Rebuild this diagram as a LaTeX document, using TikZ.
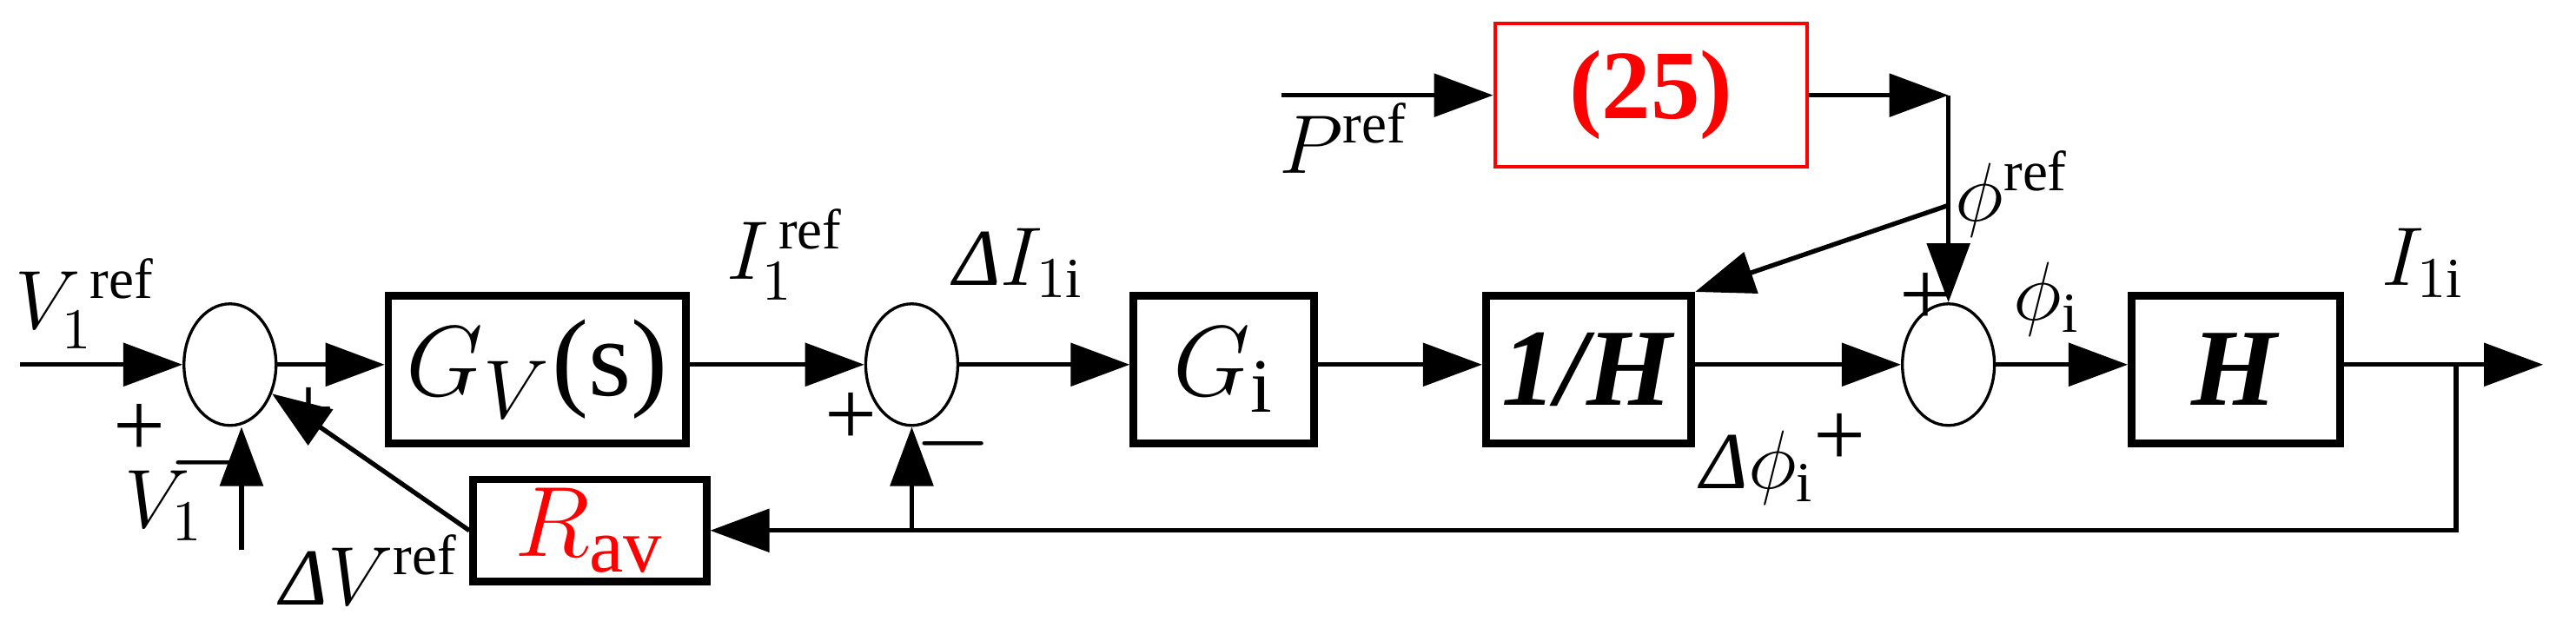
\documentclass[tikz,border=0pt]{standalone}
\usepackage{fontspec}
\setmainfont{Liberation Serif}
\usepackage{tikz}
\usetikzlibrary{positioning,shapes.geometric,arrows.meta}

\tikzset{
  blk/.style={draw, line width=1.3pt, minimum width=#1, minimum height=0.9cm, inner sep=0pt, font=\fontsize{19}{19}\selectfont},
  sum/.style={draw, ellipse, line width=0.5pt, minimum width=0.56cm, minimum height=0.74cm, inner sep=0pt},
  sig/.style={line width=0.8pt, -{Triangle[length=0.36cm,width=0.26cm]}},
  wire/.style={line width=0.8pt},
  lab/.style={font=\fontsize{14}{14}\selectfont, inner sep=0pt},
  sgn/.style={font=\fontsize{16}{16}\selectfont, inner sep=0pt}
}

\begin{document}
\begin{tikzpicture}[x=0.01cm, y=-0.01cm]
\useasboundingbox (0,0) rectangle (1568,382);
% blocks
\node[sum] (s1) at (140,222) {};
\node[blk=1.81cm] (gv) at (327,225) {$G_V$(s)};
\node[sum] (s2) at (555,222) {};
\node[blk=1.1cm] (gi) at (745,225) {$G_\mathrm{i}$};
\node[blk=1.25cm] (ih) at (967,225) {\textbf{\textit{1/H}}};
\node[sum] (s3) at (1186,222) {};
\node[blk=1.27cm] (h) at (1361,225) {\textbf{\textit{H}}};
\node[blk=1.42cm, minimum height=0.62cm, text=red] (rav) at (359,323) {$R_\mathrm{av}$};
\node[draw=red, line width=0.6pt, minimum width=1.9cm, minimum height=0.87cm, inner sep=0pt, text=red, font=\fontsize{17}{17}\selectfont\bfseries] (eq) at (1005,58) {(25)};
% free ends
\coordinate (vin) at (12,222);
\coordinate (v1in) at (147,335);
\coordinate (pin) at (780,58);
\coordinate (pk) at (1186,58);
\coordinate (br) at (1186,125);
\coordinate (out) at (1548,222);
\coordinate (tap) at (1495,222);
\coordinate (tb) at (1495,323);
\coordinate (t2) at (555,323);
% signals
\draw[sig] (vin) -- (s1);
\draw[sig] (s1) -- (gv.west |- s1);
\draw[sig] (gv.east |- s2) -- (s2);
\draw[sig] (s2) -- (gi.west |- s2);
\draw[sig] (gi.east |- s2) -- (ih.west |- s2);
\draw[sig] (ih.east |- s3) -- (s3);
\draw[sig] (s3) -- (h.west |- s3);
\draw[sig] (h.east |- s3) -- (out);
\draw[sig] (v1in) -- (v1in |- s1.south);
\draw[sig] (pin) -- (eq);
\draw[sig] (eq) -- (pk);
\draw[sig] (pk) -- (s3);
\draw[sig] (br) -- (ih.north east);
\draw[wire] (tap) -- (tb) -- (t2);
\draw[sig] (t2) -- (rav);
\draw[sig] (t2) -- (s2);
\draw[sig] (rav.west) -- (s1);
% labels
\node[lab] (l1) at (52,185) {$V_1^{\,\mathrm{ref}}$};
\node[lab] (l2) at (100,308) {$V_1$};
\node[lab] (l3) at (225,347) {\textit{Δ}$V^{\mathrm{ref}}$};
\node[lab] (l4) at (478,155) {$I_1^{\,\mathrm{ref}}$};
\node[lab] (l5) at (620,160) {\textit{Δ}$I_{1\mathrm{i}}$};
\node[lab] (l6) at (1070,285) {\textit{Δ}$\phi_\mathrm{i}$};
\node[lab] (l7) at (1246,182) {$\phi_\mathrm{i}$};
\node[lab] (l8) at (1225,118) {$\phi^{\mathrm{ref}}$};
\node[lab] (l9) at (818,84) {$P^{\mathrm{ref}}$};
\node[lab] (l10) at (1475,160) {$I_{1\mathrm{i}}$};
\node[sgn] (g1) at (85,262) {+};
\node[sgn] (g2) at (126,282) {$-$};
\node[sgn] (g3) at (188,252) {+};
\node[sgn] (g4) at (518,255) {+};
\node[sgn] (g5) at (580,270) {$-$};
\node[sgn] (g6) at (1120,268) {+};
\node[sgn] (g7) at (1172,182) {+};
\end{tikzpicture}
\end{document}
